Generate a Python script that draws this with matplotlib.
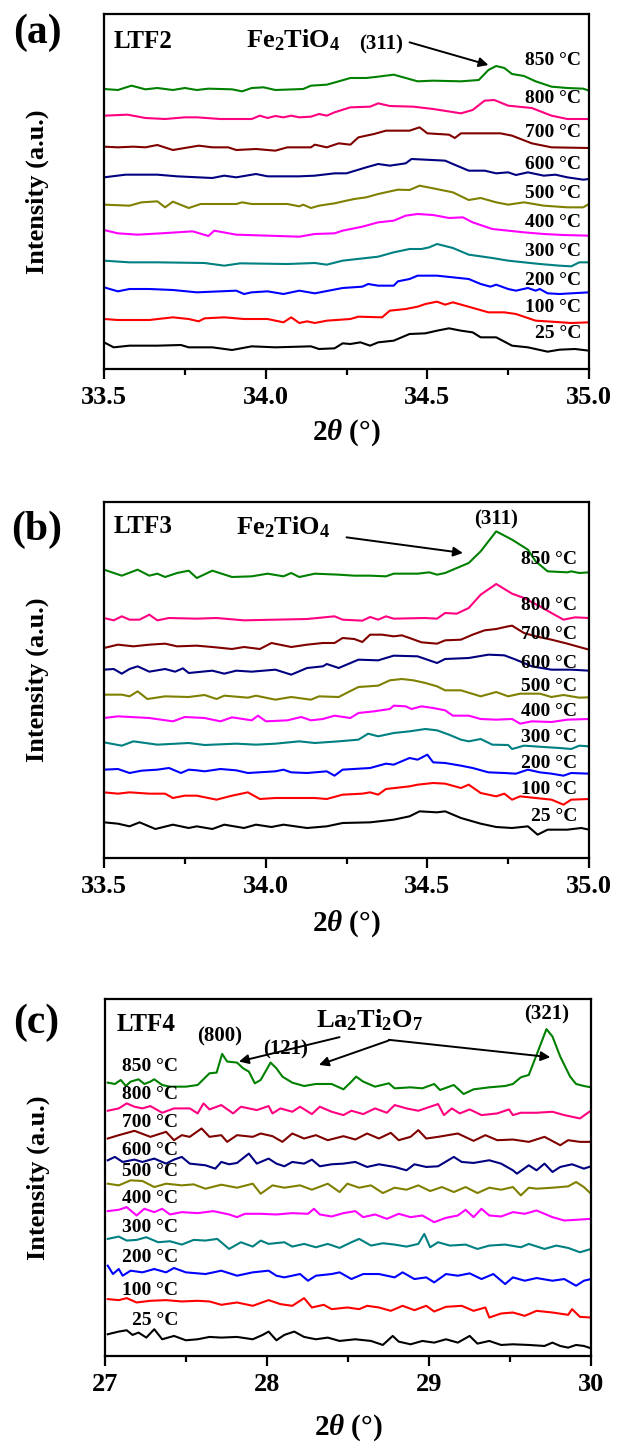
import matplotlib
matplotlib.use("Agg")
import matplotlib.pyplot as plt
from matplotlib.ticker import MultipleLocator

plt.rcParams['font.family'] = 'Liberation Serif'
plt.rcParams['font.weight'] = 'bold'
plt.rcParams['axes.labelweight'] = 'bold'
plt.rcParams['mathtext.fontset'] = 'custom'
plt.rcParams['mathtext.rm'] = 'Liberation Serif:bold'
plt.rcParams['mathtext.it'] = 'Liberation Serif:italic:bold'
plt.rcParams['mathtext.bf'] = 'Liberation Serif:bold'
plt.rcParams['mathtext.default'] = 'regular'

temps = ['25 °C', '100 °C', '200 °C', '300 °C', '400 °C',
         '500 °C', '600 °C', '700 °C', '800 °C', '850 °C']
colors = ['#000000', '#ff0000', '#0000ff', '#008080', '#ff00ff',
          '#808000', '#000080', '#800000', '#ff0080', '#008000']

# ---------------- (a) LTF2, stacked intensity (a.u.) ----------------
a25_x = [33.500, 33.530, 33.579, 33.665, 33.738, 33.762, 33.835, 33.896, 33.957, 34.030, 34.140, 34.165, 34.213, 34.238, 34.262, 34.293, 34.323, 34.348, 34.396, 34.445, 34.494, 34.530, 34.567, 34.604, 34.640, 34.665, 34.713, 34.762, 34.811, 34.872, 34.909, 34.957, 35.000]
a25_y = [80, 65, 70, 70, 72, 65, 65, 57, 68, 65, 68, 60, 62, 77, 75, 80, 70, 80, 85, 105, 107, 115, 122, 115, 110, 95, 95, 70, 65, 52, 58, 60, 55]
a100_x = [33.500, 33.543, 33.640, 33.713, 33.762, 33.793, 33.811, 33.872, 33.933, 34.006, 34.055, 34.079, 34.104, 34.128, 34.152, 34.189, 34.262, 34.287, 34.360, 34.384, 34.433, 34.470, 34.494, 34.530, 34.555, 34.579, 34.616, 34.689, 34.738, 34.774, 34.835, 34.884, 34.945, 35.000]
a100_y = [150, 147, 147, 155, 150, 143, 152, 155, 150, 150, 140, 155, 138, 143, 138, 145, 150, 157, 155, 175, 180, 187, 195, 202, 193, 200, 190, 170, 170, 165, 145, 142, 138, 140]
a200_x = [33.500, 33.543, 33.579, 33.640, 33.713, 33.787, 33.909, 33.933, 33.957, 34.006, 34.055, 34.104, 34.152, 34.238, 34.299, 34.317, 34.348, 34.396, 34.409, 34.445, 34.470, 34.530, 34.579, 34.628, 34.665, 34.695, 34.713, 34.750, 34.774, 34.811, 34.835, 34.848, 34.872, 34.909, 35.000]
a200_y = [245, 233, 240, 240, 237, 230, 235, 225, 230, 233, 225, 235, 227, 243, 247, 255, 250, 250, 263, 270, 280, 280, 275, 270, 255, 247, 253, 240, 235, 243, 235, 240, 227, 225, 230]
a300_x = [33.500, 33.579, 33.665, 33.811, 33.872, 33.921, 34.067, 34.152, 34.189, 34.238, 34.348, 34.396, 34.445, 34.482, 34.506, 34.530, 34.579, 34.628, 34.701, 34.750, 34.799, 34.848, 34.909, 34.945, 34.970, 35.000]
a300_y = [325, 320, 320, 318, 310, 317, 315, 318, 313, 325, 337, 350, 360, 360, 365, 375, 363, 343, 333, 325, 320, 315, 310, 308, 320, 320]
a400_x = [33.500, 33.543, 33.604, 33.677, 33.774, 33.823, 33.841, 33.909, 34.104, 34.152, 34.213, 34.238, 34.299, 34.348, 34.396, 34.433, 34.470, 34.518, 34.567, 34.610, 34.640, 34.701, 34.750, 34.799, 34.860, 34.921, 35.000]
a400_y = [417, 407, 403, 407, 413, 399, 415, 403, 397, 405, 407, 415, 427, 440, 445, 460, 465, 462, 453, 455, 440, 420, 415, 410, 405, 402, 400]
a500_x = [33.500, 33.579, 33.616, 33.665, 33.689, 33.713, 33.762, 33.799, 33.909, 33.927, 33.957, 34.067, 34.104, 34.116, 34.140, 34.165, 34.213, 34.250, 34.274, 34.311, 34.348, 34.409, 34.445, 34.476, 34.518, 34.579, 34.628, 34.665, 34.713, 34.750, 34.799, 34.860, 34.933, 34.982, 35.000]
a500_y = [493, 490, 500, 503, 485, 502, 483, 495, 495, 500, 495, 495, 488, 493, 483, 490, 497, 505, 510, 515, 525, 538, 537, 550, 542, 530, 507, 513, 500, 493, 500, 490, 485, 485, 495]
a600_x = [33.500, 33.567, 33.616, 33.665, 33.726, 33.835, 33.872, 33.909, 33.970, 34.006, 34.104, 34.152, 34.213, 34.250, 34.311, 34.348, 34.384, 34.433, 34.451, 34.494, 34.555, 34.579, 34.628, 34.677, 34.713, 34.750, 34.774, 34.811, 34.860, 34.896, 34.933, 34.982, 35.000]
a600_y = [575, 583, 583, 583, 578, 573, 580, 575, 585, 578, 578, 580, 587, 587, 605, 615, 610, 617, 630, 628, 625, 615, 595, 595, 587, 590, 582, 590, 580, 583, 575, 568, 570]
a700_x = [33.500, 33.543, 33.591, 33.628, 33.665, 33.713, 33.762, 33.793, 33.835, 33.884, 33.909, 33.970, 34.030, 34.067, 34.140, 34.152, 34.189, 34.226, 34.262, 34.287, 34.335, 34.372, 34.445, 34.476, 34.500, 34.567, 34.585, 34.604, 34.677, 34.726, 34.762, 34.823, 34.884, 35.000]
a700_y = [667, 665, 667, 665, 672, 657, 665, 670, 665, 665, 657, 660, 655, 665, 665, 673, 665, 677, 673, 695, 705, 715, 715, 725, 707, 703, 693, 707, 707, 707, 700, 677, 665, 663]
a800_x = [33.500, 33.573, 33.628, 33.689, 33.750, 33.787, 33.860, 33.957, 33.982, 34.006, 34.030, 34.055, 34.079, 34.104, 34.140, 34.165, 34.189, 34.213, 34.262, 34.323, 34.348, 34.384, 34.457, 34.518, 34.604, 34.640, 34.677, 34.707, 34.750, 34.823, 34.884, 34.933, 35.000]
a800_y = [760, 763, 753, 750, 755, 755, 750, 750, 760, 753, 759, 755, 760, 755, 757, 765, 760, 770, 785, 787, 797, 789, 787, 780, 767, 777, 805, 807, 790, 783, 760, 750, 750]
a850_x = [33.500, 33.543, 33.585, 33.628, 33.665, 33.713, 33.750, 33.787, 33.823, 33.896, 33.927, 33.957, 33.994, 34.030, 34.116, 34.140, 34.189, 34.226, 34.262, 34.311, 34.348, 34.396, 34.433, 34.470, 34.518, 34.604, 34.659, 34.689, 34.713, 34.738, 34.762, 34.799, 34.835, 34.884, 34.933, 34.982, 35.000]
a850_y = [840, 837, 850, 839, 843, 837, 843, 837, 841, 839, 833, 843, 845, 837, 840, 850, 853, 863, 873, 873, 877, 883, 873, 863, 865, 863, 867, 897, 909, 903, 885, 879, 863, 847, 843, 841, 835]

# ---------------- (b) LTF3 ----------------
b25_x = [33.500, 33.543, 33.579, 33.610, 33.659, 33.713, 33.762, 33.787, 33.835, 33.872, 33.933, 33.970, 34.018, 34.055, 34.128, 34.189, 34.238, 34.323, 34.396, 34.445, 34.476, 34.530, 34.555, 34.604, 34.665, 34.713, 34.762, 34.811, 34.841, 34.872, 34.933, 34.976, 35.000]
b25_y = [107, 103, 95, 107, 87, 100, 90, 95, 87, 100, 90, 100, 93, 100, 90, 95, 105, 107, 115, 125, 140, 137, 140, 120, 103, 93, 90, 95, 70, 85, 85, 90, 85]
b100_x = [33.500, 33.543, 33.579, 33.640, 33.689, 33.713, 33.750, 33.787, 33.848, 33.896, 33.945, 33.982, 34.030, 34.079, 34.152, 34.189, 34.238, 34.299, 34.323, 34.348, 34.372, 34.445, 34.470, 34.518, 34.555, 34.604, 34.628, 34.665, 34.713, 34.738, 34.762, 34.787, 34.835, 34.884, 34.921, 34.945, 35.000]
b100_y = [197, 193, 197, 193, 193, 180, 187, 187, 175, 187, 197, 177, 180, 180, 180, 177, 190, 193, 197, 190, 207, 215, 220, 225, 223, 210, 220, 195, 185, 193, 175, 185, 180, 175, 160, 175, 177]
b200_x = [33.500, 33.543, 33.579, 33.616, 33.665, 33.701, 33.738, 33.762, 33.787, 33.811, 33.860, 33.909, 33.945, 34.030, 34.055, 34.079, 34.128, 34.189, 34.213, 34.238, 34.323, 34.372, 34.396, 34.445, 34.470, 34.500, 34.518, 34.555, 34.604, 34.640, 34.689, 34.738, 34.774, 34.811, 34.848, 34.884, 34.921, 34.945, 35.000]
b200_y = [265, 267, 255, 262, 265, 270, 255, 265, 263, 260, 267, 263, 255, 260, 265, 257, 255, 260, 247, 265, 270, 283, 280, 300, 295, 310, 287, 285, 277, 270, 257, 255, 253, 265, 257, 253, 247, 255, 253]
b300_x = [33.500, 33.555, 33.591, 33.665, 33.762, 33.811, 33.909, 33.970, 34.030, 34.104, 34.152, 34.226, 34.287, 34.317, 34.348, 34.396, 34.445, 34.494, 34.530, 34.567, 34.604, 34.628, 34.665, 34.701, 34.750, 34.762, 34.799, 34.860, 34.909, 34.945, 34.970, 35.000]
b300_y = [347, 337, 350, 340, 345, 339, 343, 340, 343, 350, 345, 350, 355, 373, 365, 375, 380, 387, 383, 370, 355, 350, 357, 340, 339, 327, 337, 333, 330, 327, 337, 335]
b400_x = [33.500, 33.543, 33.640, 33.713, 33.750, 33.811, 33.860, 33.896, 33.957, 33.976, 34.001, 34.067, 34.110, 34.140, 34.177, 34.213, 34.262, 34.287, 34.335, 34.384, 34.396, 34.433, 34.451, 34.482, 34.518, 34.555, 34.579, 34.628, 34.665, 34.713, 34.762, 34.787, 34.823, 34.884, 34.933, 35.000]
b400_y = [420, 425, 420, 410, 423, 420, 410, 422, 413, 427, 410, 413, 423, 413, 417, 427, 420, 435, 440, 447, 457, 455, 447, 455, 450, 443, 427, 427, 417, 415, 417, 403, 410, 408, 415, 417]
b500_x = [33.500, 33.555, 33.579, 33.604, 33.634, 33.689, 33.762, 33.811, 33.848, 33.872, 33.945, 33.970, 34.030, 34.079, 34.140, 34.165, 34.226, 34.250, 34.287, 34.348, 34.384, 34.421, 34.457, 34.494, 34.530, 34.555, 34.604, 34.665, 34.713, 34.750, 34.787, 34.848, 34.884, 34.921, 34.970, 35.000]
b500_y = [490, 490, 485, 500, 477, 485, 483, 489, 477, 487, 481, 487, 475, 483, 475, 485, 483, 495, 513, 517, 533, 537, 533, 525, 515, 503, 503, 485, 498, 485, 493, 493, 483, 489, 481, 482]
b600_x = [33.500, 33.530, 33.555, 33.579, 33.604, 33.640, 33.689, 33.720, 33.744, 33.762, 33.835, 33.872, 33.909, 33.957, 34.030, 34.079, 34.128, 34.177, 34.189, 34.226, 34.238, 34.287, 34.348, 34.396, 34.470, 34.494, 34.530, 34.555, 34.628, 34.689, 34.738, 34.774, 34.823, 34.884, 34.945, 35.000]
b600_y = [565, 567, 553, 567, 575, 559, 567, 559, 569, 555, 562, 553, 562, 559, 565, 550, 570, 575, 582, 570, 575, 595, 593, 607, 605, 597, 585, 597, 600, 610, 608, 595, 575, 565, 565, 562]
b700_x = [33.500, 33.543, 33.591, 33.640, 33.689, 33.726, 33.787, 33.835, 33.896, 33.933, 33.982, 34.018, 34.079, 34.128, 34.177, 34.213, 34.238, 34.274, 34.299, 34.323, 34.360, 34.396, 34.421, 34.445, 34.482, 34.530, 34.555, 34.604, 34.640, 34.677, 34.713, 34.750, 34.762, 34.799, 34.835, 34.884, 34.933, 34.970, 35.000]
b700_y = [630, 640, 635, 640, 643, 635, 637, 633, 627, 633, 627, 645, 633, 640, 645, 645, 660, 657, 648, 670, 670, 665, 668, 660, 647, 643, 653, 655, 670, 683, 687, 695, 697, 675, 665, 655, 643, 633, 625]
b800_x = [33.500, 33.530, 33.555, 33.579, 33.610, 33.640, 33.665, 33.701, 33.787, 33.848, 33.933, 34.030, 34.128, 34.213, 34.238, 34.299, 34.323, 34.348, 34.372, 34.396, 34.494, 34.530, 34.555, 34.591, 34.628, 34.665, 34.713, 34.762, 34.799, 34.848, 34.884, 34.921, 34.957, 35.000]
b800_y = [720, 713, 725, 715, 715, 730, 713, 720, 718, 720, 713, 715, 717, 725, 715, 712, 723, 715, 725, 718, 720, 718, 735, 733, 750, 790, 822, 793, 780, 755, 735, 715, 722, 720]
b850_x = [33.500, 33.555, 33.604, 33.640, 33.665, 33.689, 33.726, 33.762, 33.787, 33.835, 33.896, 33.957, 34.006, 34.055, 34.079, 34.104, 34.152, 34.226, 34.274, 34.323, 34.372, 34.396, 34.470, 34.506, 34.530, 34.555, 34.579, 34.628, 34.665, 34.713, 34.762, 34.811, 34.835, 34.872, 34.933, 34.945, 34.970, 35.000]
b850_y = [865, 847, 865, 847, 853, 843, 855, 862, 840, 862, 843, 845, 853, 845, 855, 843, 853, 850, 847, 847, 845, 853, 853, 857, 850, 855, 865, 885, 920, 980, 955, 925, 890, 860, 857, 860, 855, 857]

# ---------------- (c) LTF4 ----------------
c25_x = [27.017, 27.085, 27.134, 27.170, 27.207, 27.255, 27.304, 27.353, 27.426, 27.499, 27.572, 27.645, 27.718, 27.815, 27.912, 27.973, 28.010, 28.058, 28.107, 28.168, 28.229, 28.302, 28.375, 28.448, 28.545, 28.642, 28.715, 28.776, 28.813, 28.886, 28.959, 29.032, 29.105, 29.178, 29.251, 29.299, 29.372, 29.445, 29.518, 29.616, 29.713, 29.762, 29.810, 29.859, 29.908, 29.956, 30.000]
c25_y = [65, 73, 77, 63, 70, 55, 80, 50, 60, 47, 50, 57, 55, 57, 50, 63, 73, 47, 63, 73, 57, 50, 55, 45, 50, 45, 33, 60, 43, 35, 45, 40, 50, 40, 60, 37, 45, 33, 35, 33, 30, 40, 30, 25, 33, 30, 23]
c100_x = [27.017, 27.085, 27.134, 27.195, 27.280, 27.377, 27.474, 27.572, 27.645, 27.718, 27.815, 27.912, 28.010, 28.083, 28.156, 28.229, 28.277, 28.350, 28.399, 28.496, 28.569, 28.618, 28.691, 28.764, 28.837, 28.910, 28.983, 29.032, 29.105, 29.202, 29.275, 29.348, 29.372, 29.445, 29.518, 29.591, 29.664, 29.762, 29.859, 29.883, 29.932, 30.000]
c100_y = [170, 167, 173, 160, 165, 167, 163, 165, 163, 153, 160, 150, 167, 155, 150, 173, 145, 153, 140, 145, 140, 150, 145, 135, 150, 137, 150, 133, 147, 150, 135, 145, 115, 127, 130, 120, 135, 130, 123, 140, 117, 115]
c200_x = [27.017, 27.049, 27.085, 27.109, 27.158, 27.231, 27.304, 27.377, 27.426, 27.499, 27.620, 27.718, 27.815, 27.912, 28.010, 28.058, 28.107, 28.204, 28.253, 28.302, 28.399, 28.448, 28.521, 28.594, 28.691, 28.788, 28.837, 28.910, 28.983, 29.032, 29.105, 29.178, 29.251, 29.324, 29.397, 29.470, 29.518, 29.591, 29.664, 29.762, 29.835, 29.908, 29.956, 30.000]
c200_y = [270, 245, 260, 240, 255, 250, 260, 250, 263, 250, 245, 255, 240, 250, 255, 240, 235, 245, 225, 240, 245, 250, 230, 245, 245, 235, 250, 230, 235, 220, 245, 240, 247, 230, 245, 215, 235, 225, 233, 225, 230, 210, 225, 230]
c300_x = [27.017, 27.085, 27.134, 27.195, 27.255, 27.328, 27.401, 27.474, 27.547, 27.620, 27.693, 27.766, 27.839, 27.912, 27.961, 28.010, 28.107, 28.156, 28.229, 28.302, 28.375, 28.448, 28.521, 28.569, 28.642, 28.715, 28.788, 28.861, 28.934, 28.971, 29.007, 29.056, 29.129, 29.226, 29.299, 29.372, 29.470, 29.567, 29.616, 29.713, 29.786, 29.859, 29.932, 30.000]
c300_y = [350, 357, 345, 347, 355, 340, 343, 333, 347, 345, 350, 320, 340, 327, 345, 335, 340, 327, 335, 325, 335, 323, 340, 350, 330, 337, 333, 327, 335, 365, 325, 340, 330, 333, 320, 330, 333, 325, 335, 320, 330, 323, 310, 320]
c400_x = [27.017, 27.085, 27.134, 27.195, 27.243, 27.304, 27.353, 27.401, 27.474, 27.572, 27.669, 27.766, 27.815, 27.864, 27.961, 28.058, 28.156, 28.253, 28.290, 28.326, 28.399, 28.472, 28.545, 28.594, 28.667, 28.740, 28.813, 28.886, 28.959, 29.032, 29.105, 29.178, 29.226, 29.275, 29.324, 29.372, 29.445, 29.518, 29.591, 29.664, 29.762, 29.835, 29.908, 30.000]
c400_y = [433, 437, 445, 420, 440, 430, 440, 423, 430, 427, 433, 423, 415, 425, 425, 423, 427, 425, 440, 423, 417, 427, 433, 415, 423, 410, 425, 415, 420, 400, 413, 420, 437, 415, 440, 420, 417, 430, 425, 435, 415, 405, 407, 410]
c500_x = [27.017, 27.085, 27.158, 27.231, 27.304, 27.377, 27.474, 27.547, 27.620, 27.718, 27.815, 27.912, 27.961, 28.034, 28.107, 28.204, 28.277, 28.375, 28.448, 28.496, 28.569, 28.642, 28.715, 28.788, 28.861, 28.934, 29.007, 29.080, 29.153, 29.226, 29.299, 29.372, 29.445, 29.518, 29.567, 29.616, 29.664, 29.762, 29.859, 29.908, 29.956, 30.000]
c500_y = [515, 510, 525, 523, 505, 515, 510, 513, 500, 512, 503, 515, 485, 510, 503, 510, 497, 515, 490, 515, 503, 510, 487, 503, 497, 510, 493, 505, 490, 505, 487, 503, 497, 505, 480, 503, 500, 503, 507, 520, 505, 485]
c600_x = [27.017, 27.061, 27.109, 27.182, 27.231, 27.304, 27.377, 27.426, 27.474, 27.523, 27.620, 27.681, 27.718, 27.766, 27.815, 27.888, 27.937, 28.010, 28.058, 28.107, 28.156, 28.229, 28.277, 28.326, 28.399, 28.472, 28.545, 28.618, 28.691, 28.788, 28.861, 28.910, 28.983, 29.056, 29.153, 29.202, 29.275, 29.372, 29.445, 29.518, 29.543, 29.616, 29.664, 29.713, 29.762, 29.810, 29.883, 29.956, 30.000]
c600_y = [585, 595, 580, 587, 580, 590, 575, 587, 595, 575, 570, 560, 580, 573, 577, 605, 575, 590, 575, 567, 580, 575, 587, 567, 573, 575, 580, 565, 573, 565, 555, 573, 565, 567, 595, 580, 577, 585, 575, 555, 545, 570, 555, 575, 550, 565, 573, 560, 567]
c700_x = [27.017, 27.085, 27.182, 27.280, 27.377, 27.426, 27.474, 27.523, 27.596, 27.645, 27.718, 27.754, 27.815, 27.912, 27.961, 28.034, 28.095, 28.156, 28.229, 28.302, 28.375, 28.472, 28.545, 28.618, 28.691, 28.764, 28.813, 28.886, 28.934, 28.983, 29.056, 29.178, 29.275, 29.348, 29.421, 29.518, 29.616, 29.713, 29.810, 29.859, 29.932, 30.000]
c700_y = [650, 660, 673, 655, 670, 645, 660, 655, 680, 655, 660, 640, 660, 655, 665, 657, 640, 665, 650, 660, 645, 657, 647, 665, 650, 667, 645, 655, 675, 650, 655, 665, 643, 660, 645, 647, 640, 655, 630, 645, 640, 640]
c800_x = [27.017, 27.085, 27.134, 27.182, 27.231, 27.280, 27.353, 27.426, 27.523, 27.572, 27.608, 27.645, 27.718, 27.791, 27.839, 27.937, 28.010, 28.034, 28.083, 28.156, 28.204, 28.277, 28.326, 28.399, 28.472, 28.521, 28.594, 28.667, 28.740, 28.788, 28.861, 28.934, 29.007, 29.056, 29.092, 29.141, 29.190, 29.251, 29.324, 29.421, 29.494, 29.518, 29.567, 29.664, 29.762, 29.835, 29.932, 29.981, 30.000]
c800_y = [733, 740, 755, 745, 740, 747, 727, 740, 740, 725, 755, 737, 750, 725, 745, 735, 747, 725, 740, 730, 745, 723, 745, 730, 720, 733, 723, 740, 727, 750, 740, 733, 745, 753, 720, 740, 725, 737, 720, 725, 737, 720, 727, 727, 730, 720, 710, 727, 733]
c850_x = [27.017, 27.061, 27.097, 27.129, 27.158, 27.207, 27.243, 27.280, 27.304, 27.353, 27.401, 27.499, 27.572, 27.645, 27.689, 27.723, 27.754, 27.815, 27.852, 27.888, 27.925, 27.961, 28.022, 28.058, 28.095, 28.156, 28.229, 28.302, 28.399, 28.472, 28.521, 28.550, 28.594, 28.667, 28.752, 28.788, 28.886, 28.959, 29.032, 29.068, 29.153, 29.214, 29.275, 29.372, 29.470, 29.518, 29.567, 29.616, 29.664, 29.725, 29.762, 29.810, 29.871, 29.908, 29.956, 30.000]
c850_y = [817, 813, 825, 807, 820, 827, 813, 820, 827, 810, 805, 805, 810, 845, 847, 903, 880, 877, 860, 850, 815, 825, 877, 860, 835, 817, 807, 813, 813, 797, 820, 835, 820, 805, 815, 800, 803, 800, 813, 795, 810, 783, 797, 803, 807, 813, 833, 840, 900, 977, 955, 895, 835, 813, 807, 803]

a_xs = [a25_x, a100_x, a200_x, a300_x, a400_x, a500_x, a600_x, a700_x, a800_x, a850_x]
a_ys = [a25_y, a100_y, a200_y, a300_y, a400_y, a500_y, a600_y, a700_y, a800_y, a850_y]
b_xs = [b25_x, b100_x, b200_x, b300_x, b400_x, b500_x, b600_x, b700_x, b800_x, b850_x]
b_ys = [b25_y, b100_y, b200_y, b300_y, b400_y, b500_y, b600_y, b700_y, b800_y, b850_y]
c_xs = [c25_x, c100_x, c200_x, c300_x, c400_x, c500_x, c600_x, c700_x, c800_x, c850_x]
c_ys = [c25_y, c100_y, c200_y, c300_y, c400_y, c500_y, c600_y, c700_y, c800_y, c850_y]

# label heights for the temperature tags (data units of each panel)
a_tag_y = [105, 185, 265, 353, 440, 527, 613, 710, 810, 925]
b_tag_y = [125, 205, 285, 360, 440, 515, 585, 670, 758, 895]
c_tag_y = [105, 197, 295, 383, 470, 550, 615, 697, 783, 865]

W, H = 619, 1444
fig = plt.figure(figsize=(W / 100, H / 100), dpi=100)


def add_panel(left, top, right, bottom):
    return fig.add_axes([left / W, 1 - bottom / H, (right - left) / W, (bottom - top) / H])


def style(ax, xlim, ylim, minor, ticks, tick_labels, xlab_off):
    ax.set_xlim(*xlim)
    ax.set_ylim(*ylim)
    ax.set_yticks([])
    ax.set_xticks(ticks)
    ax.set_xticklabels(tick_labels)
    ax.xaxis.set_minor_locator(MultipleLocator(minor))
    ax.tick_params(axis='x', which='major', direction='out', length=7, width=1.6,
                   labelsize=19, pad=5)
    ax.tick_params(axis='x', which='minor', direction='out', length=4, width=1.6)
    for sp in ax.spines.values():
        sp.set_linewidth(1.6)
    ax.set_xlabel(r'2$\mathit{\theta}$ (°)', fontsize=21, va='center')
    ax.xaxis.set_label_coords(0.5, xlab_off)
    ax.set_ylabel('Intensity (a.u.)', fontsize=19, va='center')
    ax.yaxis.set_label_coords(-0.138, 0.5)


def draw(ax, xs, ys, tag_x, tag_y):
    for x, y, c in zip(xs, ys, colors):
        ax.plot(x, y, color=c, lw=1.5)
    for t, ty in zip(temps, tag_y):
        ax.text(tag_x, ty, t, ha='right', va='center', fontsize=14)


arrow = dict(arrowstyle='-|>', color='black', lw=1.4, mutation_scale=14, shrinkA=0, shrinkB=0)

# (a)
ax = add_panel(104, 14, 589, 369)
draw(ax, a_xs, a_ys, 34.976, a_tag_y)
style(ax, (33.5, 35.0), (0, 1065), 0.25, [33.5, 34.0, 34.5, 35.0],
      ['33.5', '34.0', '34.5', '35.0'], -64 / 355)
ax.text(33.530, 983, 'LTF2', fontsize=18, va='center')
ax.text(33.939, 965, r'Fe$_2$TiO$_4$', fontsize=19, va='baseline')
ax.text(34.357, 975, '(311)', fontsize=15, ha='center', va='center')
ax.annotate('', xy=(34.689, 912), xytext=(34.445, 980), arrowprops=arrow)
fig.text(37 / W, 1 - 33 / H, '(a)', fontsize=30, ha='center', va='center')

# (b)
ax = add_panel(104, 502, 589, 858)
draw(ax, b_xs, b_ys, 34.963, b_tag_y)
style(ax, (33.5, 35.0), (0, 1068), 0.25, [33.5, 34.0, 34.5, 35.0],
      ['33.5', '34.0', '34.5', '35.0'], -66 / 356)
ax.text(33.530, 995, 'LTF3', fontsize=18, va='center')
ax.text(33.909, 970, r'Fe$_2$TiO$_4$', fontsize=19, va='baseline')
ax.text(34.713, 1015, '(311)', fontsize=15, ha='center', va='center')
ax.annotate('', xy=(34.610, 915), xytext=(34.250, 962), arrowprops=arrow)
fig.text(37 / W, 1 - 530 / H, '(b)', fontsize=30, ha='center', va='center')

# (c)
ax = add_panel(105, 999, 591, 1356)
draw(ax, c_xs, c_ys, 27.45, c_tag_y)
style(ax, (27, 30), (0, 1067), 0.5, [27, 28, 29, 30],
      ['27', '28', '29', '30'], -72 / 357)
ax.text(27.073, 990, 'LTF4', fontsize=18, va='center')
ax.text(27.706, 955, '(800)', fontsize=15, ha='center', va='center')
ax.text(28.117, 917, '(121)', fontsize=15, ha='center', va='center')
ax.text(28.302, 983, r'La$_2$Ti$_2$O$_7$', fontsize=19, va='baseline')
ax.text(29.723, 1020, '(321)', fontsize=15, ha='center', va='center')
ax.annotate('', xy=(27.827, 880), xytext=(28.448, 953), arrowprops=arrow)
ax.annotate('', xy=(28.321, 870), xytext=(28.752, 943), arrowprops=arrow)
ax.annotate('', xy=(29.749, 893), xytext=(28.752, 945), arrowprops=arrow)
fig.text(36 / W, 1 - 1023 / H, '(c)', fontsize=30, ha='center', va='center')

fig.savefig('out.png', dpi=100)
